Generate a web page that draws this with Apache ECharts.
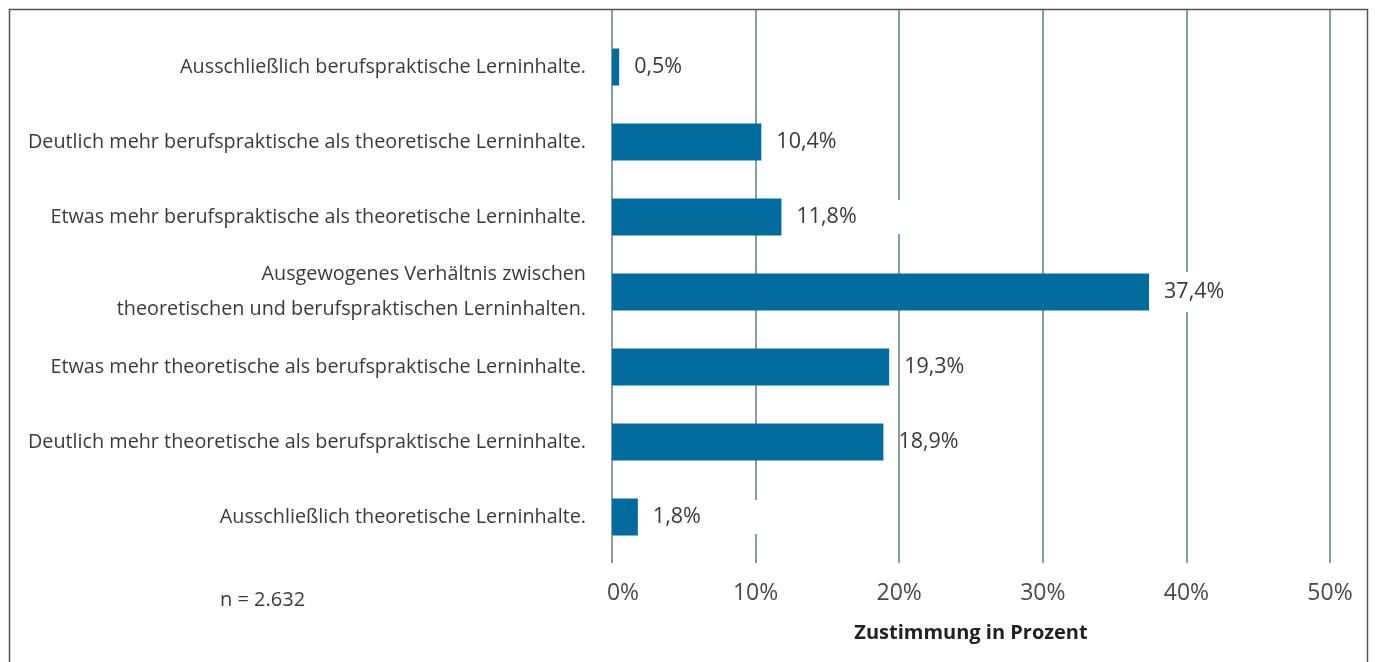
<!DOCTYPE html>
<html>
<head>
<meta charset="utf-8">
<script src="https://cdn.jsdelivr.net/npm/echarts@6/dist/echarts.min.js"></script>
<style>
  html, body { margin: 0; padding: 0; background: #fff; }
  #chart { width: 1375px; height: 662px; }
</style>
</head>
<body>
<div id="chart"></div>
<script>
// Antworten (von oben nach unten)
var categories = [
    'Ausschließlich berufspraktische Lerninhalte.',
    'Deutlich mehr berufspraktische als theoretische Lerninhalte.',
    'Etwas mehr berufspraktische als theoretische Lerninhalte.',
    'Ausgewogenes Verhältnis zwischen\ntheoretischen und berufspraktischen Lerninhalten.',
    'Etwas mehr theoretische als berufspraktische Lerninhalte.',
    'Deutlich mehr theoretische als berufspraktische Lerninhalte.',
    'Ausschließlich theoretische Lerninhalte.'
];
// Zustimmung in Prozent
var shares = [0.5, 10.4, 11.8, 37.4, 19.3, 18.9, 1.8];
var axisMin = 0, axisMax = 50, axisStep = 10;
var sampleNote = 'n = 2.632';
var axisTitle = 'Zustimmung in Prozent';

var FONT = 'Open Sans';
var TEXT = '#3a3a3a';
var GRIDCOL = '#66788a';

// weiße Hinterlegung einiger Werte (verdeckt Gitterlinien wie im Original)
var labelBg = {
    2: [6, 50, 6, 0],
    3: [9, 6, 9, 0],
    6: [6, 64, 6, 0]
};

var barData = shares.map(function (v, i) {
    var item = { value: v };
    if (labelBg[i]) {
        item.label = { backgroundColor: '#fff', padding: labelBg[i] };
    }
    return item;
});

var myChart = echarts.init(document.getElementById('chart'), null, { renderer: 'canvas' });

var option = {
    animation: false,
    textStyle: { fontFamily: FONT },
    grid: [
        // Balken
        { left: 612, right: 45, top: 29.5, height: 525 },
        // Gitterlinien + Achsenbeschriftung
        { left: 612, right: 45, top: 10, bottom: 99 }
    ],
    xAxis: [
        { gridIndex: 0, type: 'value', min: axisMin, max: axisMax, interval: axisStep, show: false },
        {
            gridIndex: 1, type: 'value', min: axisMin, max: axisMax, interval: axisStep,
            axisLine: { show: false },
            axisTick: { show: false },
            splitLine: { show: true, lineStyle: { color: GRIDCOL, width: 1.5 } },
            axisLabel: {
                margin: 19,
                fontSize: 23,
                color: '#4a4a4a',
                fontFamily: FONT,
                formatter: function (v) {
                    return v === 0 ? '{first|0%}' : v + '%';
                },
                rich: {
                    first: { fontSize: 23, color: '#4a4a4a', fontFamily: FONT, padding: [0, 0, 0, 22] }
                }
            },
            name: axisTitle,
            nameLocation: 'middle',
            nameGap: 60,
            nameTextStyle: { fontSize: 20, fontWeight: 'bold', color: '#222', fontFamily: FONT }
        }
    ],
    yAxis: [
        {
            gridIndex: 0, type: 'category', data: categories, inverse: true,
            axisLine: { show: false },
            axisTick: { show: false },
            axisLabel: {
                margin: 26,
                fontSize: 19.8,
                lineHeight: 35,
                color: TEXT,
                fontFamily: FONT
            }
        },
        { gridIndex: 1, type: 'value', show: false }
    ],
    series: [
        {
            type: 'bar',
            xAxisIndex: 0,
            yAxisIndex: 0,
            data: barData,
            barWidth: 37,
            itemStyle: { color: '#006b9c' },
            label: {
                show: true,
                position: 'right',
                distance: 15,
                fontSize: 21.5,
                color: TEXT,
                fontFamily: FONT,
                formatter: function (p) {
                    return p.value.toFixed(1).replace('.', ',') + '%';
                }
            }
        }
    ],
    graphic: [
        {
            type: 'rect',
            silent: true,
            shape: { x: 9.5, y: 9.5, width: 1358, height: 700 },
            style: { fill: 'none', stroke: '#555', lineWidth: 1.5 },
            z: 10
        },
        {
            type: 'text',
            left: 220,
            top: 590,
            style: { text: sampleNote, fontSize: 20, fill: TEXT, fontFamily: FONT }
        }
    ]
};

myChart.setOption(option);
window.addEventListener('resize', function () { myChart.resize(); });
</script>
</body>
</html>
